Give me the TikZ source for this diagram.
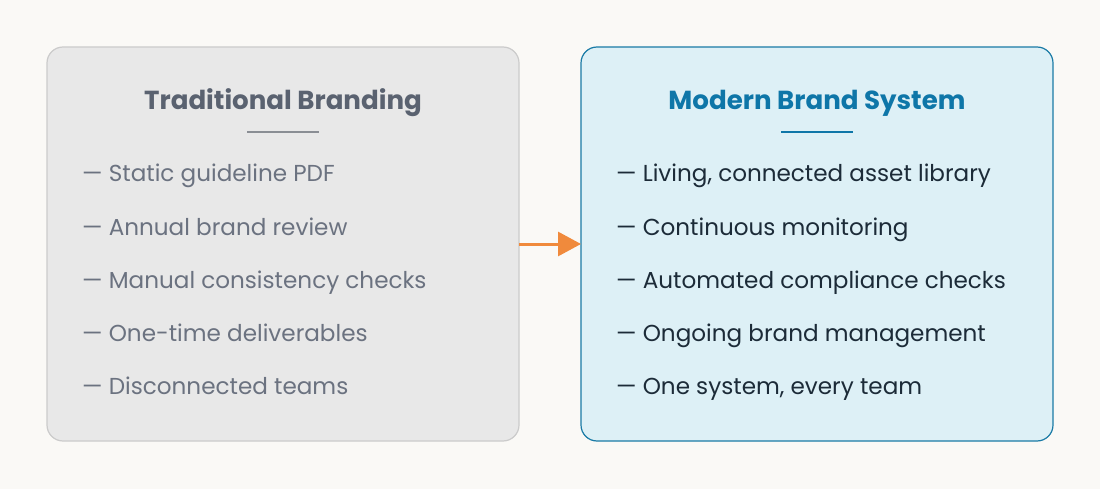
\documentclass[tikz,border=0pt]{standalone}
\usepackage{fontspec}
\setmainfont{Poppins}
\usetikzlibrary{arrows.meta}
\definecolor{bg}{HTML}{FAF9F6}
\definecolor{lfill}{HTML}{E8E8E8}
\definecolor{ldraw}{HTML}{CBCBCB}
\definecolor{rfill}{HTML}{DDF0F6}
\definecolor{rdraw}{HTML}{1A7BA6}
\definecolor{ltitle}{HTML}{5A6270}
\definecolor{rtitle}{HTML}{0E76A8}
\definecolor{lrule}{HTML}{8A8E94}
\definecolor{ltext}{HTML}{6B7280}
\definecolor{rtext}{HTML}{1C2B38}
\definecolor{arr}{HTML}{F08A3C}
\tikzset{
  panel/.style={rounded corners=16pt, line width=1.2pt},
  ptitle/.style={font=\bfseries\fontsize{26.1}{30}\selectfont, anchor=base, inner sep=0pt},
  item/.style={font=\fontsize{23.1}{27}\selectfont, anchor=base west, inner sep=0pt},
}
\begin{document}
\begin{tikzpicture}[x=1pt,y=-1pt]
\fill[bg] (0,0) rectangle (1100,489);
\useasboundingbox (0,0) rectangle (1100,489);
\draw[panel, fill=lfill, draw=ldraw] (47,47) rectangle (519,441);
\coordinate (Lr) at (519,244);
\draw[panel, fill=rfill, draw=rdraw] (581,47) rectangle (1053,441);
\coordinate (Rl) at (581,244);
\node[ptitle, text=ltitle] (lt) at (283,110) {Traditional Branding};
\node[ptitle, text=rtitle] (rt) at (817,110) {Modern Brand System};
\draw[lrule, line width=1.5pt] (247,132) -- (319,132);
\draw[rtitle, line width=1.5pt] (781,132) -- (853,132);
\node[item, text=ltext] (l1) at (82,182) {— Static guideline PDF};
\node[item, text=ltext] (l2) at (82,235) {— Annual brand review};
\node[item, text=ltext] (l3) at (82,288) {— Manual consistency checks};
\node[item, text=ltext] (l4) at (82,341) {— One-time deliverables};
\node[item, text=ltext] (l5) at (82,394) {— Disconnected teams};
\node[item, text=rtext] (r1) at (616,182) {— Living, connected asset library};
\node[item, text=rtext] (r2) at (616,235) {— Continuous monitoring};
\node[item, text=rtext] (r3) at (616,288) {— Automated compliance checks};
\node[item, text=rtext] (r4) at (616,341) {— Ongoing brand management};
\node[item, text=rtext] (r5) at (616,394) {— One system, every team};
\draw[arr, line width=3pt, -{Triangle[length=23pt,width=24pt]}] (Lr) -- (Rl);
\end{tikzpicture}
\end{document}
